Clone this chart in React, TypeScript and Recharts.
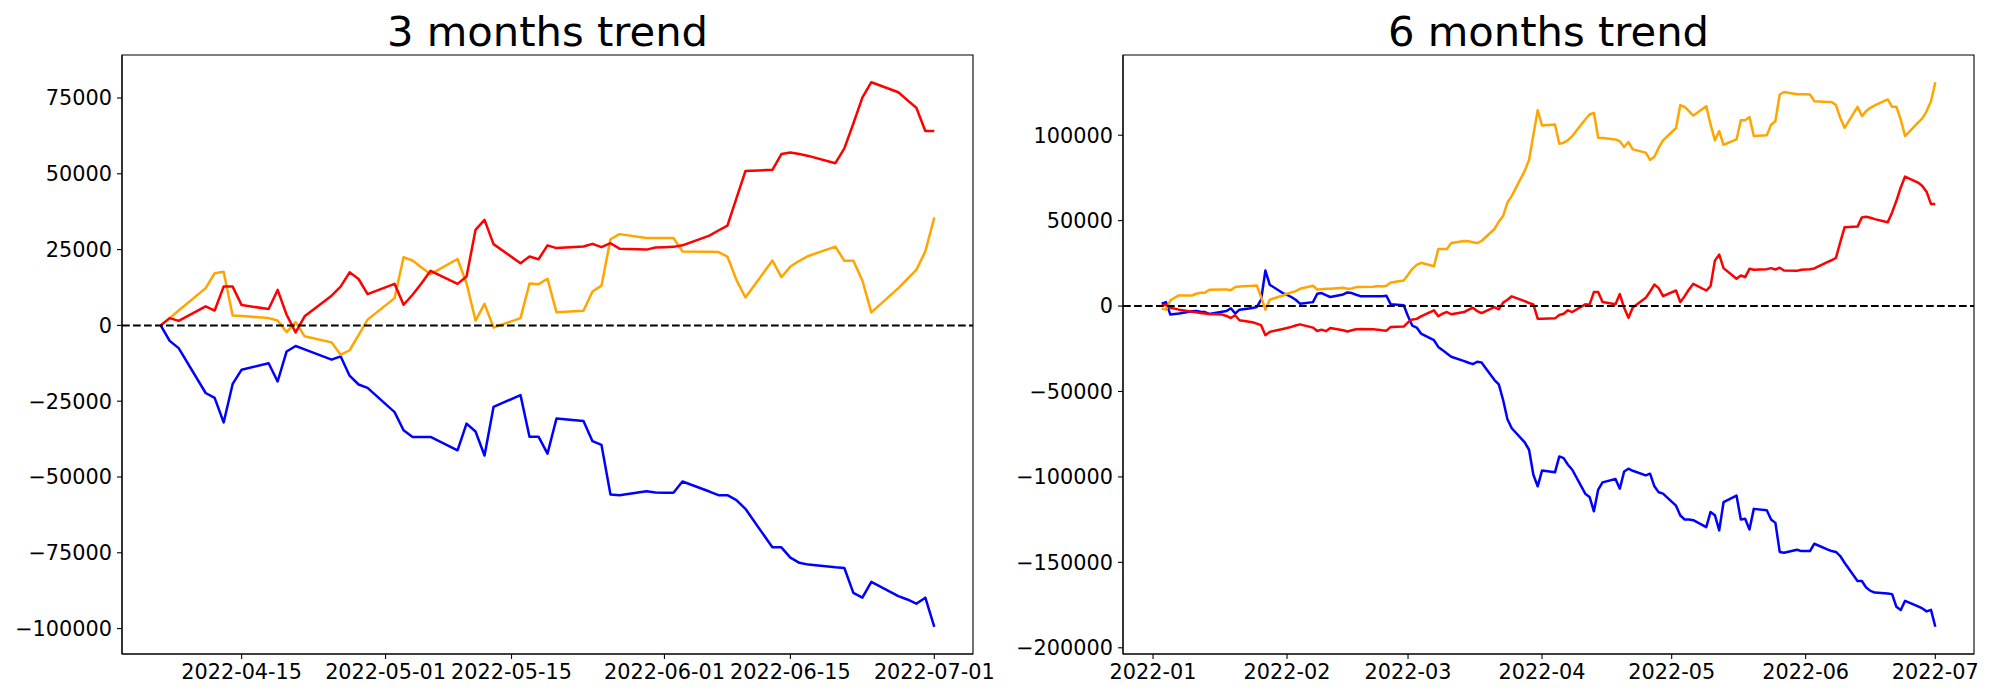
import { LineChart, Line, XAxis, YAxis, ReferenceLine, ReferenceArea } from 'recharts'

const FONT = '"DejaVu Sans", sans-serif'

// 3 months: weekdays from 2022-04-06 to 2022-07-01
const DATES_3M = [
  '2022-04-06', '2022-04-07', '2022-04-08',
  '2022-04-11', '2022-04-12', '2022-04-13', '2022-04-14', '2022-04-15',
  '2022-04-18', '2022-04-19', '2022-04-20', '2022-04-21', '2022-04-22',
  '2022-04-25', '2022-04-26', '2022-04-27', '2022-04-28', '2022-04-29',
  '2022-05-02', '2022-05-03', '2022-05-04', '2022-05-05', '2022-05-06',
  '2022-05-09', '2022-05-10', '2022-05-11', '2022-05-12', '2022-05-13',
  '2022-05-16', '2022-05-17', '2022-05-18', '2022-05-19', '2022-05-20',
  '2022-05-23', '2022-05-24', '2022-05-25', '2022-05-26', '2022-05-27',
  '2022-05-30', '2022-05-31', '2022-06-01', '2022-06-02', '2022-06-03',
  '2022-06-06', '2022-06-07', '2022-06-08', '2022-06-09', '2022-06-10',
  '2022-06-13', '2022-06-14', '2022-06-15', '2022-06-16', '2022-06-17',
  '2022-06-20', '2022-06-21', '2022-06-22', '2022-06-23', '2022-06-24',
  '2022-06-27', '2022-06-28', '2022-06-29', '2022-06-30', '2022-07-01',
]
const RED_3M = [
  0, 2400, 1500,
  6300, 4900, 12800, 12800, 6700,
  5400, 11700, 3500, -2300, 3000,
  9800, 12800, 17500, 15300, 10300,
  13700, 6800, 10100, 13900, 18000,
  13700, 16100, 31500, 34800, 26800,
  20500, 22700, 21800, 26400, 25500,
  26000, 26900, 25800, 27100, 25300,
  25000, 25700, 25800, 25900, 26400,
  29600, 31300, 32900, 41900, 50900,
  51300, 56500, 57000, 56500, 55900,
  53500, 58400, 66600, 75100, 80200,
  76900, 74300, 71800, 64100, 64100,
]
const ORANGE_3M = [
  0, 2400, 4900,
  12300, 17200, 17700, 3300, 3100,
  2400, 1600, -2200, 1100, -3600,
  -5600, -9700, -8200, -3200, 1900,
  9000, 22500, 21400, 19100, 16900,
  21900, 13900, 1600, 7100, -700,
  2400, 13800, 13600, 15400, 4300,
  4800, 11200, 13100, 28400, 30100,
  28800, 28800, 28800, 28800, 24400,
  24300, 24200, 22700, 15000, 9200,
  21400, 15900, 19400, 21300, 22900,
  26000, 21300, 21300, 14800, 4300,
  12300, 15300, 18300, 24400, 35600,
]
const BLUE_3M = [
  0, -5100, -7500,
  -22300, -23900, -32000, -19300, -14600,
  -12500, -18500, -8600, -6800, -7900,
  -11300, -10200, -16600, -19500, -20600,
  -28600, -34600, -36800, -36800, -36800,
  -41200, -32400, -35000, -42900, -26900,
  -23000, -36700, -36700, -42300, -30700,
  -31500, -38200, -39400, -55800, -56000,
  -54700, -55100, -55200, -55200, -51500,
  -54800, -56000, -56000, -57600, -60500,
  -73200, -73200, -76600, -78300, -78900,
  -79800, -80000, -88200, -89800, -84600,
  -89300, -90400, -91800, -89800, -99400,
]
const TICKS_3M = ['2022-04-15', '2022-05-01', '2022-05-15', '2022-06-01', '2022-06-15', '2022-07-01']
const YTICKS_3M = [-100000, -75000, -50000, -25000, 0, 25000, 50000, 75000]

// 6 months: weekdays from 2022-01-03 to 2022-07-01
const DATES_6M = [
  '2022-01-03', '2022-01-04', '2022-01-05', '2022-01-06', '2022-01-07',
  '2022-01-10', '2022-01-11', '2022-01-12', '2022-01-13', '2022-01-14',
  '2022-01-17', '2022-01-18', '2022-01-19', '2022-01-20', '2022-01-21',
  '2022-01-24', '2022-01-25', '2022-01-26', '2022-01-27', '2022-01-28',
  '2022-01-31', '2022-02-01', '2022-02-02', '2022-02-03', '2022-02-04',
  '2022-02-07', '2022-02-08', '2022-02-09', '2022-02-10', '2022-02-11',
  '2022-02-14', '2022-02-15', '2022-02-16', '2022-02-17', '2022-02-18',
  '2022-02-21', '2022-02-22', '2022-02-23', '2022-02-24', '2022-02-25',
  '2022-02-28', '2022-03-01', '2022-03-02', '2022-03-03', '2022-03-04',
  '2022-03-07', '2022-03-08', '2022-03-09', '2022-03-10', '2022-03-11',
  '2022-03-14', '2022-03-15', '2022-03-16', '2022-03-17', '2022-03-18',
  '2022-03-21', '2022-03-22', '2022-03-23', '2022-03-24', '2022-03-25',
  '2022-03-28', '2022-03-29', '2022-03-30', '2022-03-31', '2022-04-01',
  '2022-04-04', '2022-04-05', '2022-04-06', '2022-04-07', '2022-04-08',
  '2022-04-11', '2022-04-12', '2022-04-13', '2022-04-14', '2022-04-15',
  '2022-04-18', '2022-04-19', '2022-04-20', '2022-04-21', '2022-04-22',
  '2022-04-25', '2022-04-26', '2022-04-27', '2022-04-28', '2022-04-29',
  '2022-05-02', '2022-05-03', '2022-05-04', '2022-05-05', '2022-05-06',
  '2022-05-09', '2022-05-10', '2022-05-11', '2022-05-12', '2022-05-13',
  '2022-05-16', '2022-05-17', '2022-05-18', '2022-05-19', '2022-05-20',
  '2022-05-23', '2022-05-24', '2022-05-25', '2022-05-26', '2022-05-27',
  '2022-05-30', '2022-05-31', '2022-06-01', '2022-06-02', '2022-06-03',
  '2022-06-06', '2022-06-07', '2022-06-08', '2022-06-09', '2022-06-10',
  '2022-06-13', '2022-06-14', '2022-06-15', '2022-06-16', '2022-06-17',
  '2022-06-20', '2022-06-21', '2022-06-22', '2022-06-23', '2022-06-24',
  '2022-06-27', '2022-06-28', '2022-06-29', '2022-06-30', '2022-07-01',
]
const RED_6M = [
  500, 800, -1000, -1500, -2100,
  -3300, -3700, -4100, -4300, -4600,
  -5000, -5800, -7000, -5400, -8300,
  -9500, -10300, -11200, -17100, -15100,
  -13400, -12800, -12200, -11400, -10700,
  -12600, -14600, -13800, -14700, -12800,
  -14200, -14900, -14200, -13600, -13400,
  -13600, -13800, -14200, -14400, -12200,
  -12000, -9500, -7900, -7500, -6000,
  -2500, -6000, -4400, -3500, -4800,
  -3500, -2100, -1000, -2900, -4100,
  -600, -1900, 2000, 3700, 5700,
  2900, 1800, 1000, -7400, -7400,
  -7200, -5200, -4500, -2500, -3500,
  1000, 800, 8200, 8200, 2400,
  1000, 7000, -1000, -6900, -800,
  4800, 8500, 12600, 10500, 5800,
  9100, 2300, 5800, 9700, 13000,
  9100, 11700, 26600, 30100, 22200,
  16000, 17900, 16900, 21800, 21200,
  21600, 22200, 21400, 22400, 20800,
  20600, 21200, 21400, 21600, 22000,
  25700, 26800, 28200, 37300, 46100,
  46500, 51900, 52300, 51700, 50900,
  49000, 54800, 61600, 69400, 75800,
  72300, 70300, 66800, 59700, 59700,
]
const ORANGE_6M = [
  -1500, -2100, 3300, 4900, 6200,
  6200, 7200, 7800, 7800, 9500,
  9700, 9700, 9200, 11100, 11500,
  11900, 12100, 5300, -2100, 3700,
  6200, 7200, 8000, 8700, 10100,
  11900, 9700, 9900, 10100, 10100,
  10700, 10100, 10300, 11100, 11100,
  11300, 11700, 11500, 11900, 13800,
  15000, 18300, 21800, 24100, 25300,
  23300, 33400, 33400, 33400, 36900,
  38100, 37900, 37300, 36900, 38100,
  45100, 49400, 52800, 60600, 64500,
  79100, 85500, 100300, 114600, 105700,
  106300, 95000, 95600, 97100, 99500,
  109200, 112100, 113100, 98500, 98300,
  97500, 96400, 93100, 96000, 91700,
  89800, 85500, 87400, 92700, 97000,
  104200, 117600, 116600, 114100, 111500,
  117000, 106300, 97000, 102400, 94400,
  97500, 108800, 108800, 110600, 99500,
  99900, 106100, 108300, 123800, 125300,
  124000, 124000, 124000, 123800, 119900,
  119500, 119500, 117600, 110200, 104300,
  116600, 111200, 114100, 116000, 117400,
  120900, 116600, 116600, 109200, 99500,
  107300, 109800, 114100, 119900, 131000,
]
const BLUE_6M = [
  1400, 2300, -5000, -4600, -4300,
  -3100, -2900, -3300, -3500, -4600,
  -3300, -2900, -1300, -4400, -2100,
  -1100, -600, 3700, 20800, 12500,
  7600, 6600, 5300, 3700, 1400,
  2300, 7200, 7600, 6400, 5300,
  6800, 8000, 7600, 6600, 5800,
  5800, 5800, 5800, 6000, 1000,
  500, -6000, -11500, -12600, -16100,
  -20000, -23900, -25800, -27800, -29700,
  -32200, -33200, -34000, -32600, -33000,
  -43300, -45800, -55000, -66200, -71500,
  -79800, -84100, -98700, -105500, -96300,
  -97300, -88000, -89000, -92900, -95800,
  -109800, -111700, -120100, -107400, -103200,
  -101200, -106900, -96800, -95200, -96400,
  -99100, -98100, -105500, -109000, -109800,
  -116800, -122600, -124900, -124900, -125300,
  -129400, -120500, -122400, -131300, -114800,
  -110900, -124900, -124500, -130800, -118700,
  -119500, -124900, -126900, -143900, -144400,
  -142600, -143400, -143400, -143400, -139100,
  -142400, -143400, -143900, -146300, -150200,
  -160900, -160900, -164700, -166700, -167700,
  -168200, -168600, -176000, -177900, -172500,
  -175800, -177000, -178700, -177800, -187700,
]
const TICKS_6M = ['2022-01-01', '2022-02-01', '2022-03-01', '2022-04-01', '2022-05-01', '2022-06-01', '2022-07-01']
const YTICKS_6M = [-200000, -150000, -100000, -50000, 0, 50000, 100000]

const toTs = (s: string) => Date.parse(s + 'T00:00:00Z')
const fmtDay = (t: number) => new Date(t).toISOString().slice(0, 10)
const fmtMonth = (t: number) => new Date(t).toISOString().slice(0, 7)
const fmtNum = (v: number) => (v < 0 ? '\u2212' + Math.abs(v) : String(v))

interface PanelProps {
  title: string
  left: number
  yWidth: number
  rightPad: number
  dates: string[]
  red: number[]
  orange: number[]
  blue: number[]
  xTicks: string[]
  xFmt: (t: number) => string
  yTicks: number[]
}

function Panel({ title, left, yWidth, rightPad, dates, red, orange, blue, xTicks, xFmt, yTicks }: PanelProps) {
  const data = dates.map((d, i) => ({ t: toTs(d), red: red[i], orange: orange[i], blue: blue[i] }))

  // matplotlib-style 5% margins
  const t0 = data[0].t
  const t1 = data[data.length - 1].t
  const xPad = (t1 - t0) * 0.05
  const all = [...red, ...orange, ...blue]
  const lo = Math.min(...all)
  const hi = Math.max(...all)
  const yPad = (hi - lo) * 0.05
  const xDomain = [t0 - xPad, t1 + xPad]
  const yDomain = [lo - yPad, hi + yPad]

  const axisStroke = { stroke: '#000', strokeWidth: 1.1 }
  const tickStyle = { fill: '#000', fontSize: 20.8, fontFamily: FONT }

  return (
    <div style={{ position: 'absolute', left, top: 0, width: 1000, height: 700 }}>
      <div
        style={{
          position: 'absolute',
          left: yWidth,
          width: 1000 - yWidth - rightPad,
          top: 11.4,
          textAlign: 'center',
          fontSize: 41.7,
          lineHeight: '41.7px',
          fontFamily: FONT,
          color: '#000',
        }}
      >
        {title}
      </div>
      <LineChart width={1000} height={700} data={data} margin={{ top: 55, right: rightPad, bottom: 0, left: 0 }}>
        <XAxis
          dataKey="t"
          type="number"
          domain={xDomain}
          ticks={xTicks.map(toTs)}
          tickFormatter={xFmt}
          interval={0}
          height={46}
          tickSize={5}
          tickMargin={5}
          axisLine={axisStroke}
          tickLine={axisStroke}
          tick={tickStyle}
          allowDataOverflow
        />
        <YAxis
          type="number"
          domain={yDomain}
          ticks={yTicks}
          tickFormatter={fmtNum}
          interval={0}
          width={yWidth}
          tickSize={5}
          tickMargin={5}
          axisLine={axisStroke}
          tickLine={axisStroke}
          tick={tickStyle}
          allowDataOverflow
        />
        {/* axes frame (top and right spines) */}
        <ReferenceArea
          x1={xDomain[0]}
          x2={xDomain[1]}
          y1={yDomain[0]}
          y2={yDomain[1]}
          fill="none"
          fillOpacity={0}
          stroke="#000"
          strokeWidth={1.1}
        />
        <Line dataKey="blue" stroke="#0000ff" strokeWidth={2.5} dot={false} strokeLinejoin="round" isAnimationActive={false} />
        <Line dataKey="orange" stroke="#ffa500" strokeWidth={2.5} dot={false} strokeLinejoin="round" isAnimationActive={false} />
        <Line dataKey="red" stroke="#ff0000" strokeWidth={2.5} dot={false} strokeLinejoin="round" isAnimationActive={false} />
        <ReferenceLine y={0} stroke="#000" strokeWidth={2} strokeDasharray="7.7 3.3" />
      </LineChart>
    </div>
  )
}

export default function App() {
  return (
    <div style={{ position: 'absolute', left: 0, top: 0, width: 2000, height: 700, background: '#fff' }}>
      <Panel
        title="3 months trend"
        left={0}
        yWidth={122}
        rightPad={27}
        dates={DATES_3M}
        red={RED_3M}
        orange={ORANGE_3M}
        blue={BLUE_3M}
        xTicks={TICKS_3M}
        xFmt={fmtDay}
        yTicks={YTICKS_3M}
      />
      <Panel
        title="6 months trend"
        left={1000}
        yWidth={123}
        rightPad={26}
        dates={DATES_6M}
        red={RED_6M}
        orange={ORANGE_6M}
        blue={BLUE_6M}
        xTicks={TICKS_6M}
        xFmt={fmtMonth}
        yTicks={YTICKS_6M}
      />
    </div>
  )
}
